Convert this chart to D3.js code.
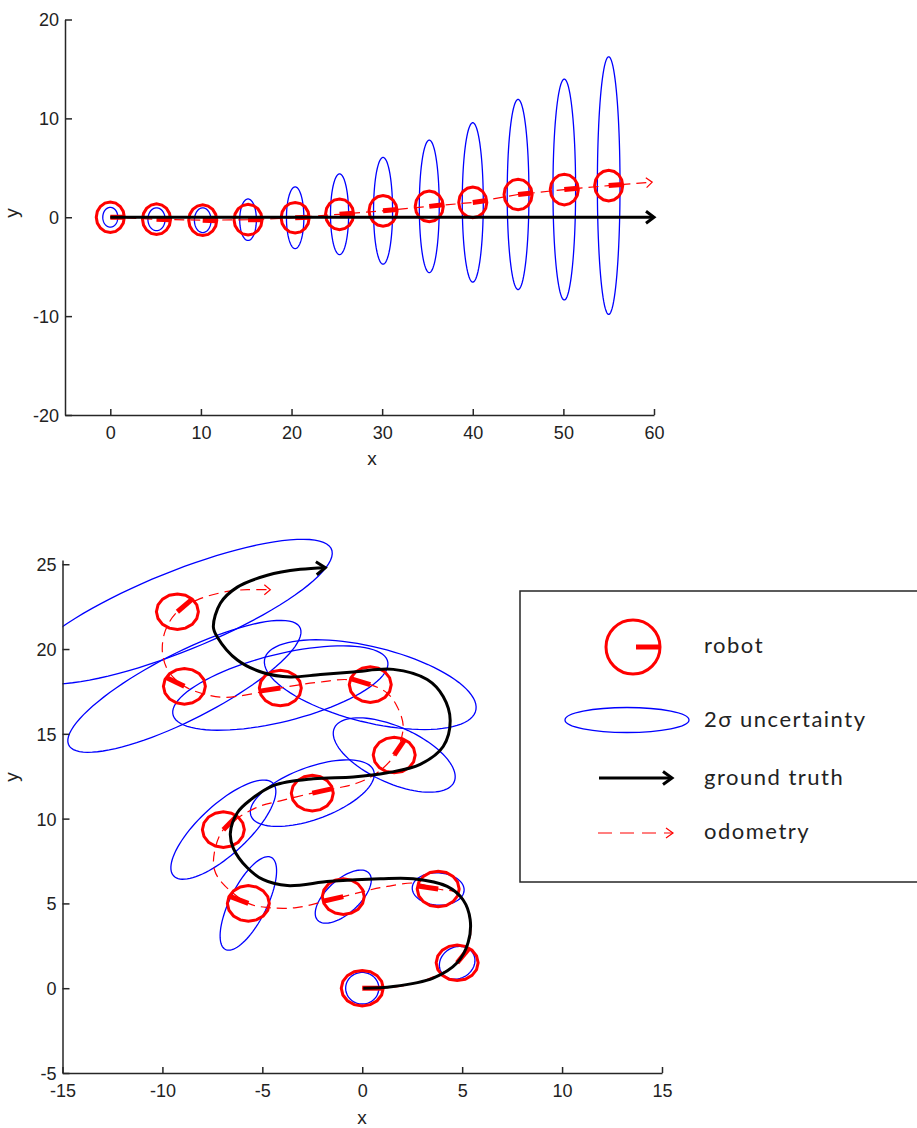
<!DOCTYPE html>
<html>
<head>
<meta charset="utf-8">
<script src="https://cdn.jsdelivr.net/npm/d3@7"></script>
<style>
  body { margin: 0; background: #fff; }
  svg text { font-family: "Liberation Sans", Arial, sans-serif; fill: #222; }
  .leg text { font-family: Lato, "Noto Sans", sans-serif; font-size: 22px; letter-spacing: 1.5px; }
</style>
</head>
<body>
<svg id="fig" width="917" height="1128"></svg>
<script>
// ---------- haut : trajectoire rectiligne ----------
const topX       = [0, 5.1, 10.2, 15.2, 20.4, 25.3, 30.1, 35.2, 40.0, 45.0, 50.1, 55.0];
const topY       = [0, -0.2, -0.3, -0.25, -0.05, 0.3, 0.65, 1.1, 1.5, 2.3, 2.8, 3.2];
const topHeading = [0, -2, -2, 0, 2, 4, 5, 6, 7, 6, 5, 4];
const topSigX    = [0.83, 0.95, 0.92, 0.92, 0.96, 1.0, 1.05, 1.1, 1.16, 1.2, 1.25, 1.25];
const topSigY    = [1.0, 1.15, 1.25, 2.1, 3.12, 4.08, 5.4, 6.7, 8.06, 9.62, 11.17, 13.03];
const topOdoEnd  = [59.8, 3.55];
const topTruthX  = [0, 60];
const topTruthY  = [0, 0];
const topXTicks  = [0, 10, 20, 30, 40, 50, 60];
const topYTicks  = [-20, -10, 0, 10, 20];

// ---------- bas : trajectoire en S ----------
const botX       = [0, 4.75, 3.8, -0.95, -5.7, -6.95, -2.5, 1.6, 0.4, -4.1, -8.9, -9.25];
const botY       = [0, 1.5, 5.85, 5.4, 5.0, 9.35, 11.5, 13.75, 17.9, 17.7, 17.8, 22.2];
const botHeading = [0, 55, 170, 195, 156, 50, 15, 60, 160, 190, 150, 45];
const botEllA    = [0.93, 1.0, 1.3, 1.9, 2.95, 3.7, 3.35, 3.4, 5.5, 5.6, 6.75, 8.55];
const botEllB    = [0.83, 0.85, 0.95, 0.9, 0.95, 1.33, 1.5, 1.6, 2.2, 1.96, 1.9, 2.28];
const botEllAng  = [90, 60, -5, 50, 68, 49, 25, -30, -17, 17, 31.6, 26];

const truthX = [0.05, 1.55, 3.55, 4.75, 5.3, 5.4, 5.05, 4.25, 2.55, 0.9, -1.6, -3.75, -4.95, -5.75,
  -6.45, -6.6, -6.25, -5.6, -4.45, -2.45, -0.45, 1.25, 2.9, 4.05, 4.4, 4.05, 3.25, 1.55, -0.45,
  -2.1, -3.6, -4.95, -6.25, -7.25, -7.45, -7.1, -6.25, -4.75, -3.1, -1.85];
const truthY = [0, 0.1, 0.6, 1.5, 2.7, 4.05, 5.2, 6.0, 6.45, 6.45, 6.3, 6.05, 6.4, 7.1,
  8.25, 9.15, 10.35, 11.1, 11.95, 12.35, 12.45, 12.7, 13.2, 14.25, 15.8, 17.2, 18.2, 18.8, 18.65,
  18.5, 18.35, 18.6, 19.35, 20.7, 21.3, 22.7, 23.65, 24.35, 24.7, 24.8];

const odoX = [0, 1.5, 3.2, 4.75, 5.4, 5.3, 4.8, 3.8, 2.6, 1.25, 0.4, -0.95, -1.95, -3.3, -4.65, -5.7,
  -7.0, -7.4, -7.4, -6.95, -5.3, -4.1, -2.5, -1.25, -0.25, 0.75, 1.6, 2.05, 1.75, 1.25, 0.4,
  -0.75, -2.1, -3.1, -4.1, -5.8, -6.8, -7.6, -8.9, -9.7, -10.0, -9.85, -9.25, -8.25, -6.75, -5.75, -4.6];
const odoY = [0, 0.05, 0.5, 1.5, 3.0, 4.5, 5.6, 5.85, 6.2, 6.0, 5.8, 5.4, 5.1, 4.75, 4.75, 5.0,
  6.2, 7.0, 8.0, 9.35, 10.65, 11.05, 11.5, 11.8, 12.1, 12.7, 13.75, 15.4, 16.6, 17.4, 17.9,
  18.2, 18.05, 17.9, 17.7, 17.3, 17.15, 17.25, 17.8, 18.7, 19.8, 21.1, 22.2, 22.9, 23.4, 23.5, 23.5];

const botXTicks = [-15, -10, -5, 0, 5, 10, 15];
const botYTicks = [-5, 0, 5, 10, 15, 20, 25];

const legendLabels = ['robot', '2σ uncertainty', 'ground truth', 'odometry'];

const RED = '#ff0000', BLUE = '#0000ff', AXC = '#262626';
const svg = d3.select('#fig');

// points d'une ellipse (unités des données)
function ellipse(cx, cy, a, b, deg, n = 90) {
  const t = deg * Math.PI / 180, pts = [];
  for (let i = 0; i < n; i++) {
    const s = 2 * Math.PI * i / n;
    const u = a * Math.cos(s), v = b * Math.sin(s);
    pts.push([cx + u * Math.cos(t) - v * Math.sin(t), cy + u * Math.sin(t) + v * Math.cos(t)]);
  }
  return pts;
}

// pointe de flèche ouverte, sommet en p1 (coordonnées écran)
function chevron(g, p0, p1, len, half, color, width) {
  const dx = p1[0] - p0[0], dy = p1[1] - p0[1], L = Math.hypot(dx, dy);
  const ux = dx / L, uy = dy / L;
  const bx = p1[0] - ux * len, by = p1[1] - uy * len;
  g.append('path')
    .attr('d', `M${bx - uy * half},${by + ux * half}L${p1[0]},${p1[1]}L${bx + uy * half},${by - ux * half}`)
    .attr('fill', 'none').attr('stroke', color).attr('stroke-width', width)
    .attr('stroke-linejoin', 'miter');
}

function drawAxes(x, y, xt, yt, xlab, ylab) {
  const g = svg.append('g');
  const fmt = d => String(d);   // trait d'union simple comme l'original
  const ax = g.append('g').attr('transform', `translate(0,${y.range()[0]})`)
    .call(d3.axisBottom(x).tickValues(xt).tickSize(-6).tickSizeOuter(0).tickPadding(11).tickFormat(fmt));
  const ay = g.append('g').attr('transform', `translate(${x.range()[0]},0)`)
    .call(d3.axisLeft(y).tickValues(yt).tickSize(-7).tickSizeOuter(0).tickPadding(6).tickFormat(fmt));
  [ax, ay].forEach(a => {
    a.selectAll('path, line').attr('stroke', AXC).attr('stroke-width', 1.5);
    a.selectAll('text').style('font-size', '18px').attr('fill', '#222');
  });
  ay.selectAll('text').attr('dy', '0.36em');
  g.append('text').attr('x', xlab[0]).attr('y', xlab[1]).attr('text-anchor', 'middle')
    .style('font-size', '19px').text('x');
  g.append('text').attr('transform', `translate(${ylab[0]},${ylab[1]}) rotate(-90)`)
    .attr('text-anchor', 'middle').style('font-size', '19px').text('y');
}

function drawRobots(g, x, y, xs, ys, hd, r) {
  const closed = d3.line().x(d => x(d[0])).y(d => y(d[1])).curve(d3.curveLinearClosed);
  xs.forEach((cx, i) => {
    g.append('path').attr('d', closed(ellipse(cx, ys[i], r, r, 0, 16)))
      .attr('fill', 'none').attr('stroke', RED).attr('stroke-width', 3);
    const t = hd[i] * Math.PI / 180;
    g.append('line')
      .attr('x1', x(cx)).attr('y1', y(ys[i]))
      .attr('x2', x(cx + r * Math.cos(t))).attr('y2', y(ys[i] + r * Math.sin(t)))
      .attr('stroke', RED).attr('stroke-width', 5);
  });
}

// ================= panneau du haut =================
{
  const x = d3.scaleLinear().domain([-5, 60]).range([65, 654]);
  const y = d3.scaleLinear().domain([-20, 20]).range([415, 19.5]);
  const g = svg.append('g');
  const closed = d3.line().x(d => x(d[0])).y(d => y(d[1])).curve(d3.curveLinearClosed);
  const path = d3.line().x(d => x(d[0])).y(d => y(d[1]));

  g.selectAll(null).data(topX).join('path')
    .attr('d', (d, i) => closed(ellipse(d, topY[i], topSigX[i], topSigY[i], 0)))
    .attr('fill', 'none').attr('stroke', BLUE).attr('stroke-width', 1.3);

  const odo = topX.map((d, i) => [d, topY[i]]).concat([topOdoEnd]);
  g.append('path').attr('d', path(odo)).attr('fill', 'none')
    .attr('stroke', RED).attr('stroke-width', 1.2).attr('stroke-dasharray', '10,6');
  const n = odo.length;
  chevron(g, [x(odo[n - 2][0]), y(odo[n - 2][1])], [x(odo[n - 1][0]), y(odo[n - 1][1])], 6, 5, RED, 1.2);

  drawRobots(g, x, y, topX, topY, topHeading, 1.55);

  g.append('path').attr('d', path(topTruthX.map((d, i) => [d, topTruthY[i]])))
    .attr('stroke', '#000').attr('stroke-width', 3).attr('fill', 'none');
  chevron(g, [x(topTruthX[0]), y(topTruthY[0])], [x(topTruthX[1]), y(topTruthY[1])], 8, 6, '#000', 3);

  drawAxes(x, y, topXTicks, topYTicks, [372, 465], [18, 213]);
}

// ================= panneau du bas =================
{
  const x = d3.scaleLinear().domain([-15, 15]).range([62.5, 662]);
  const y = d3.scaleLinear().domain([-5, 25.25]).range([1073, 560]);
  svg.append('clipPath').attr('id', 'clipB').append('rect')
    .attr('x', 62.5).attr('y', 500).attr('width', 600).attr('height', 573);
  const g = svg.append('g').attr('clip-path', 'url(#clipB)');
  const closed = d3.line().x(d => x(d[0])).y(d => y(d[1])).curve(d3.curveLinearClosed);
  const smooth = d3.line().x(d => x(d[0])).y(d => y(d[1])).curve(d3.curveCatmullRom);

  g.selectAll(null).data(botX).join('path')
    .attr('d', (d, i) => closed(ellipse(d, botY[i], botEllA[i], botEllB[i], botEllAng[i])))
    .attr('fill', 'none').attr('stroke', BLUE).attr('stroke-width', 1.3);

  const odo = odoX.map((d, i) => [d, odoY[i]]);
  g.append('path').attr('d', smooth(odo)).attr('fill', 'none')
    .attr('stroke', RED).attr('stroke-width', 1.2).attr('stroke-dasharray', '10,6');
  const n = odo.length;
  chevron(g, [x(odo[n - 2][0]), y(odo[n - 2][1])], [x(odo[n - 1][0]), y(odo[n - 1][1])], 6, 5, RED, 1.2);

  drawRobots(g, x, y, botX, botY, botHeading, 1.05);

  const tr = truthX.map((d, i) => [d, truthY[i]]);
  g.append('path').attr('d', smooth(tr)).attr('fill', 'none')
    .attr('stroke', '#000').attr('stroke-width', 3);
  const m = tr.length;
  chevron(g, [x(tr[m - 2][0]), y(tr[m - 2][1])], [x(tr[m - 1][0]), y(tr[m - 1][1])], 9, 6.5, '#000', 3);

  drawAxes(x, y, botXTicks, botYTicks, [362, 1124], [18, 777]);

  // légende
  const lg = svg.append('g').attr('class', 'leg');
  lg.append('rect').attr('x', 520).attr('y', 591).attr('width', 420).attr('height', 291)
    .attr('fill', '#fff').attr('stroke', AXC).attr('stroke-width', 1.5);
  lg.append('circle').attr('cx', 633).attr('cy', 647).attr('r', 27)
    .attr('fill', 'none').attr('stroke', RED).attr('stroke-width', 3);
  lg.append('line').attr('x1', 636).attr('y1', 647).attr('x2', 660).attr('y2', 647)
    .attr('stroke', RED).attr('stroke-width', 5);
  lg.append('ellipse').attr('cx', 627).attr('cy', 720).attr('rx', 62).attr('ry', 12.5)
    .attr('fill', 'none').attr('stroke', BLUE).attr('stroke-width', 1.3);
  lg.append('line').attr('x1', 599).attr('y1', 778).attr('x2', 672).attr('y2', 778)
    .attr('stroke', '#000').attr('stroke-width', 3);
  chevron(lg, [599, 778], [672, 778], 9, 6.5, '#000', 3);
  lg.append('line').attr('x1', 598).attr('y1', 833).attr('x2', 673).attr('y2', 833)
    .attr('stroke', RED).attr('stroke-width', 1.2).attr('stroke-dasharray', '14,8');
  chevron(lg, [598, 833], [673, 833], 7, 5, RED, 1.2);
  const baselines = [653, 727, 785, 839];
  lg.selectAll('text.lab').data(legendLabels).join('text').attr('class', 'lab')
    .attr('x', 704).attr('y', (d, i) => baselines[i]).text(d => d);
}
</script>
</body>
</html>
